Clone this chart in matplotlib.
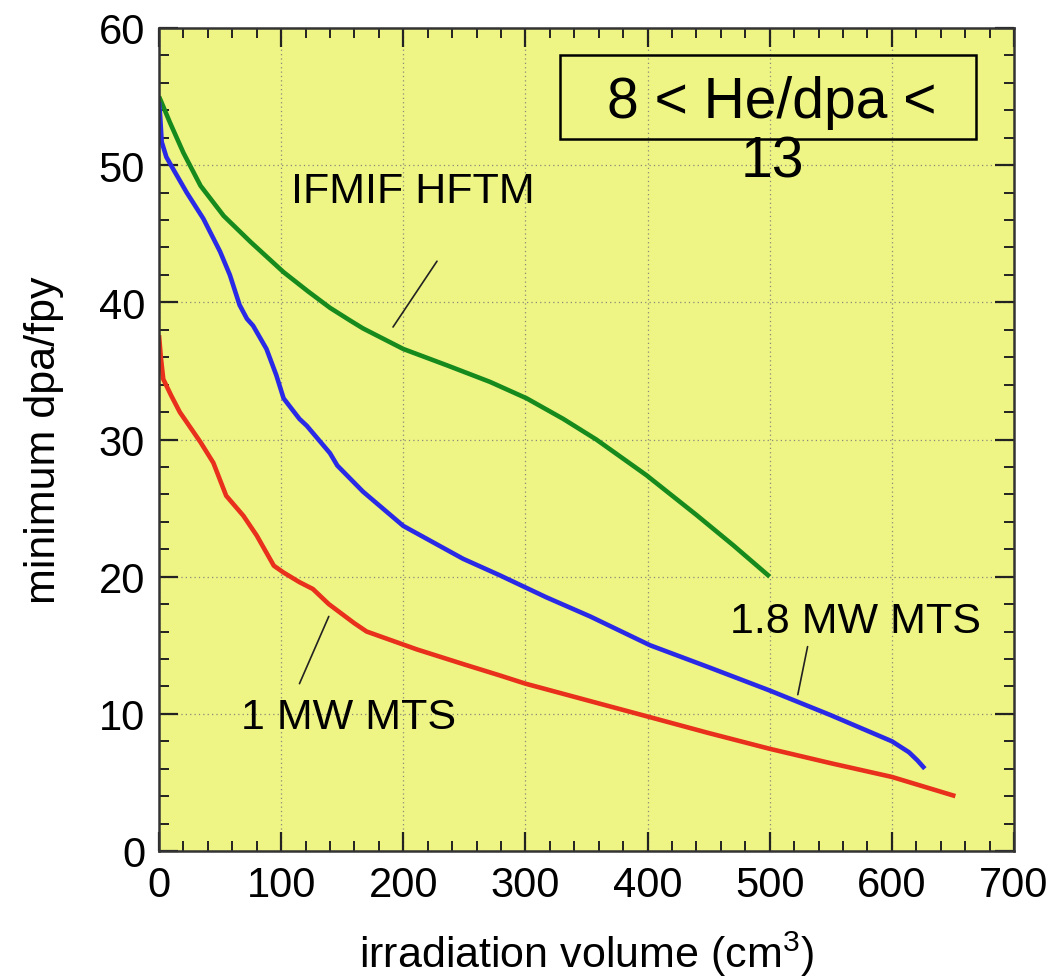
import numpy as np
import matplotlib
matplotlib.use('Agg')
import matplotlib.pyplot as plt
from matplotlib.ticker import MultipleLocator
from matplotlib.patches import Rectangle

plt.rcParams['font.family'] = ['Liberation Sans', 'DejaVu Sans']
plt.rcParams['mathtext.fontset'] = 'custom'
plt.rcParams['mathtext.rm'] = 'Liberation Sans'
plt.rcParams['mathtext.it'] = 'Liberation Sans'

# IFMIF HFTM
hftm_x = [0, 1, 9, 20, 34, 53, 75, 102, 122, 140, 156, 167, 200, 236, 271, 301, 331, 358, 399, 440, 470, 500]
hftm_y = [55.0, 54.8, 53.1, 50.9, 48.5, 46.3, 44.4, 42.2, 40.8, 39.6, 38.7, 38.1, 36.6, 35.4, 34.2, 33.0, 31.5, 30.0, 27.4, 24.5, 22.3, 20.0]

# 1.8 MW MTS
mts18_x = [0, 1, 2.2, 6, 11.7, 22.7, 36.3, 50, 58, 66, 72, 77, 88, 96, 102, 115, 121, 140, 146, 167, 200, 249, 279,
           317, 353, 402, 450, 500, 550, 600, 614, 621, 627]
mts18_y = [54.6, 53.5, 51.7, 50.6, 49.7, 48.0, 46.1, 43.7, 42.0, 39.8, 38.8, 38.3, 36.6, 34.7, 33.0, 31.5, 31.0, 29.0, 28.1, 26.2, 23.7, 21.3, 20.1,
           18.5, 17.1, 15.0, 13.4, 11.7, 9.9, 8.0, 7.2, 6.6, 6.0]

# 1 MW MTS
mts1_x = [0, 1.5, 3.5, 10, 17, 34, 44.5, 55, 69, 80, 94, 102, 115, 126, 139, 148, 160, 170, 211, 250, 279, 300,
          350, 396, 450, 500, 550, 600, 652]
mts1_y = [37.6, 36.0, 34.4, 33.2, 32.0, 29.8, 28.3, 25.9, 24.45, 23.0, 20.8, 20.3, 19.6, 19.1, 18.0, 17.4, 16.6, 16.0, 14.7, 13.6, 12.8, 12.2,
          11.0, 9.9, 8.6, 7.45, 6.4, 5.4, 4.0]

fig = plt.figure(figsize=(10.53, 9.78), dpi=100)
ax = fig.add_axes([159/1053, 126/978, 855/1053, 823/978])
ax.set_facecolor('#EEF584')

for xs, ys, c in [(hftm_x, hftm_y, '#178A1E'), (mts18_x, mts18_y, '#2A2AE6'), (mts1_x, mts1_y, '#E8301C')]:
    ax.plot(xs, ys, color=c, lw=3.3, solid_capstyle='butt', solid_joinstyle='round')

ax.set_xlim(0, 700)
ax.set_ylim(0, 60)
ax.xaxis.set_major_locator(MultipleLocator(100))
ax.xaxis.set_minor_locator(MultipleLocator(20))
ax.yaxis.set_major_locator(MultipleLocator(10))
ax.yaxis.set_minor_locator(MultipleLocator(2))
ax.tick_params(which='both', direction='in', top=True, right=True, color='#222222')
ax.tick_params(which='major', length=14, width=1.6, labelsize=30, pad=10)
ax.tick_params(which='minor', length=7, width=1.4)
ax.grid(True, which='major', ls=(0, (1, 2.5)), color='#8a8a7a', lw=0.9)
for s in ax.spines.values():
    s.set_linewidth(1.8)
    s.set_color('#333333')

ax.set_xlabel('irradiation volume (cm$^{3}$)', fontsize=31, labelpad=17)
ax.set_ylabel('minimum dpa/fpy', fontsize=31, labelpad=25)

# annotations
ax.text(208, 48.1, 'IFMIF HFTM', fontsize=31, ha='center', va='center')
ax.annotate('', xy=(191.6, 38.2), xytext=(227.6, 43.0),
            arrowprops=dict(arrowstyle='-', color='#222222', lw=1.2, shrinkA=0, shrinkB=0))
ax.text(155.6, 9.8, '1 MW MTS', fontsize=31, ha='center', va='center')
ax.annotate('', xy=(139, 17.1), xytext=(115, 12.2),
            arrowprops=dict(arrowstyle='-', color='#222222', lw=1.2, shrinkA=0, shrinkB=0))
ax.text(570, 16.8, '1.8 MW MTS', fontsize=31, ha='center', va='center')
ax.annotate('', xy=(523, 11.4), xytext=(531, 14.9),
            arrowprops=dict(arrowstyle='-', color='#222222', lw=1.2, shrinkA=0, shrinkB=0))

ax.add_patch(Rectangle((328.3, 51.9), 340.6, 6.13, fill=False, edgecolor='black', lw=1.8, zorder=3))
ax.text(502, 52.45, '8 < He/dpa <\n13', fontsize=41, ha='center', va='center',
        multialignment='center', linespacing=1.12, zorder=4)

fig.savefig('out.png', dpi=100)
